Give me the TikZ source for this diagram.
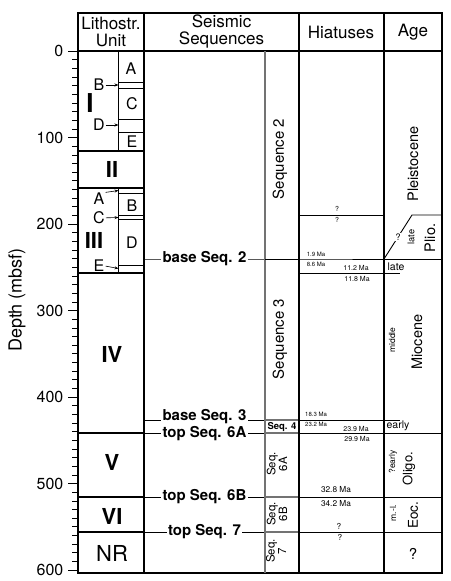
\documentclass[tikz,border=0pt]{standalone}
\usepackage{fontspec}
\setmainfont{TeX Gyre Heros}
\usetikzlibrary{arrows.meta,positioning}
\definecolor{seqgray}{RGB}{115,115,115}
\tikzset{
  frame/.style={line width=1.8pt},
  unitline/.style={line width=1.8pt},
  subline/.style={line width=0.4pt},
  hzline/.style={line width=0.9pt},
  seqline/.style={line width=1.1pt, seqgray},
  tickline/.style={line width=0.6pt},
  hdr/.style={align=center, inner sep=0pt, font=\fontsize{17}{17}\selectfont},
  unitlbl/.style={inner sep=0pt, font=\bfseries\fontsize{22}{22}\selectfont},
  sublbl/.style={inner sep=0.5pt, font=\fontsize{16}{16}\selectfont},
  seqlbl/.style={fill=white, inner xsep=1.5pt, inner ysep=0pt, font=\bfseries\fontsize{15}{15}\selectfont},
  seqname/.style={rotate=90, align=center, inner sep=0pt, font=\fontsize{15}{15}\selectfont},
  seqshort/.style={rotate=90, align=center, inner sep=0pt, font=\fontsize{11.5}{9}\selectfont},
  ma/.style={inner sep=0pt, font=\fontsize{6}{6}\selectfont},
  mamid/.style={inner sep=0pt, font=\fontsize{7}{7}\selectfont},
  mabig/.style={inner sep=0pt, font=\fontsize{8.3}{8.3}\selectfont},
  agebig/.style={rotate=90, inner sep=0pt, font=\fontsize{14.5}{14.5}\selectfont},
  agesmall/.style={rotate=90, inner sep=0pt, font=\fontsize{8.5}{8.5}\selectfont},
  agetext/.style={inner sep=0pt, font=\fontsize{10.5}{10.5}\selectfont},
  ptr/.style={-{Stealth[length=4pt, width=3pt]}, line width=0.6pt, shorten <=0.5pt},
}

\begin{document}
\begin{tikzpicture}[x=1pt, y=-1pt]
  \useasboundingbox (0,0) rectangle (450,581);

  % column heads
  \node[hdr] (hLith) at (111,32) {Lithostr.\\Unit};
  \node[hdr] (hSeis) at (221.5,32) {Seismic\\Sequences};
  \node[hdr] (hHiat) at (341,32) {Hiatuses};
  \node[hdr] (hAge) at (413,32) {Age};

  % depth axis
  \foreach \d in {0,10,...,600}
    \draw[tickline] (72,{51+0.865*\d}) -- (78,{51+0.865*\d});
  \foreach \d in {0,100,...,600} {
    \draw[tickline] (68,{51+0.865*\d}) -- (78,{51+0.865*\d});
    \node[anchor=east, inner sep=0pt, font=\fontsize{16}{16}\selectfont] (d\d) at (63.5,{51+0.865*\d}) {\d};
  }
  \node[rotate=90, inner sep=0pt, font=\fontsize{18}{18}\selectfont] (depth) at (17,300) {Depth (mbsf)};

  % lithostratigraphic units
  \draw[subline] (118,51) -- (118,151);
  \draw[subline] (118,188) -- (118,273);
  \foreach \y in {82,88,119,132,193,215.5,219.5,265}
    \draw[subline] (118,\y) -- (144,\y);
  \foreach \y in {151,188,273,433,497,532}
    \draw[unitline] (78,\y) -- (144,\y);

  \node[unitlbl, font=\bfseries\fontsize{26}{26}\selectfont] (uI) at (90,103) {I};
  \node[unitlbl] (uII) at (112,169) {II};
  \node[unitlbl] (uIII) at (94,240) {III};
  \node[unitlbl] (uIV) at (112,354) {IV};
  \node[unitlbl] (uV) at (112,462) {V};
  \node[unitlbl] (uVI) at (112,516) {VI};
  \node[unitlbl, font=\fontsize{22}{22}\selectfont] (uNR) at (112,553) {NR};

  \node[sublbl] (IA) at (131,69) {A};
  \node[sublbl] (IC) at (132,104) {C};
  \node[sublbl] (IE) at (132,142) {E};
  \node[sublbl] (IB) at (99,85) {B};
  \node[sublbl] (ID) at (99,125) {D};
  \coordinate (IBtip) at (118.5,85);
  \coordinate (IDtip) at (118.5,125);
  \draw[ptr] (IB) -- (IBtip);
  \draw[ptr] (ID) -- (IDtip);

  \node[sublbl] (IIIB) at (132,206) {B};
  \node[sublbl] (IIID) at (132,243) {D};
  \node[sublbl] (IIIA) at (99,199) {A};
  \node[sublbl] (IIIC) at (99,218) {C};
  \node[sublbl] (IIIE) at (99,266) {E};
  \coordinate (IIIAtip) at (118.5,190.5);
  \coordinate (IIICtip) at (118.5,217.5);
  \coordinate (IIIEtip) at (118.5,268.5);
  \draw[ptr] (IIIA.north east) -- (IIIAtip);
  \draw[ptr] (IIIC) -- (IIICtip);
  \draw[ptr] (IIIE.east) -- (IIIEtip);

  % seismic horizons
  \draw[hzline] (144,259) -- node[seqlbl] (bs2) {base Seq. 2} (265,259) -- (442,259);
  \draw[hzline] (144,420) -- node[seqlbl, yshift=3.5pt] (bs3) {base Seq. 3} (265,420);
  \draw[hzline] (144,433) -- node[seqlbl, yshift=-0.5pt] (ts6a) {top Seq. 6A} (265,433);
  \draw[hzline] (144,497) -- node[seqlbl] (ts6b) {top Seq. 6B} (265,497);
  \draw[hzline] (144,532) -- node[seqlbl] (ts7) {top Seq. 7\hspace{2pt}} (265,532);
  \foreach \y in {420,433,497,532}
    \draw[seqline] (265,\y) -- (299,\y);

  \node[seqname] (sq2) at (280,159) {Sequence 2};
  \node[seqname] (sq3) at (280,339) {Sequence 3};
  \node[inner sep=0pt, font=\bfseries\fontsize{9.5}{9.5}\selectfont] (sq4) at (282,427) {Seq. 4};
  \node[seqshort] (sq6a) at (277,464) {Seq.\\6A};
  \node[seqshort] (sq6b) at (277,514) {Seq.\\6B};
  \node[seqshort] (sq7) at (276,551) {Seq.\\7};

  % hiatuses
  \draw[hzline] (299,215) -- (384,215);
  \draw[hzline] (299,273) -- (400,273);
  \draw[hzline] (299,420) -- (400,420);
  \draw[hzline] (299,433) -- (442,433);
  \draw[hzline] (299,497) -- (442,497);
  \draw[hzline] (299,532) -- (442,532);

  \node[mamid] (h1a) at (337,209) {?};
  \node[mamid] (h1b) at (337,220) {?};
  \node[ma] (h2a) at (316,254) {1.9 Ma};
  \node[ma] (h2b) at (316,264.5) {8.6 Ma};
  \node[mamid] (h3a) at (356,268) {11.2 Ma};
  \node[mamid] (h3b) at (357,279) {11.8 Ma};
  \node[ma] (h4a) at (316,414.5) {18.3 Ma};
  \node[ma] (h4b) at (316,424.5) {23.2 Ma};
  \node[mamid] (h5a) at (356,429) {23.9 Ma};
  \node[mamid] (h5b) at (357,439) {29.9 Ma};
  \node[mabig] (h6a) at (336,490) {32.8 Ma};
  \node[mabig] (h6b) at (336,504) {34.2 Ma};
  \node[mabig] (h7a) at (339,526) {?};
  \node[mabig] (h7b) at (340,537.5) {?};

  % age
  \coordinate (plioA) at (384,259);
  \coordinate (plioB) at (412,215);
  \draw[hzline] (plioA) -- node[fill=white, inner sep=0.8pt, font=\fontsize{9}{9}\selectfont] (plioq) {?} (plioB) -- (442,215);
  \node[agebig] (pleist) at (413,164) {Pleistocene};
  \node[agesmall, font=\fontsize{9.3}{9.3}\selectfont] (pliolate) at (411,237) {late};
  \node[agebig] (plio) at (430,238) {Plio.};
  \node[agetext] (mlate) at (396,266.5) {late};
  \node[agesmall] (mmid) at (392,340) {middle};
  \node[agebig] (mio) at (417,342) {Miocene};
  \node[agetext] (mearly) at (398,425.5) {early};
  \node[agesmall] (oearly) at (393,462) {?early};
  \node[agebig, font=\fontsize{13}{13}\selectfont] (oligo) at (409,469) {Oligo.};
  \node[agesmall] (eml) at (393,513) {m.-l.};
  \node[agebig, font=\fontsize{13.5}{13.5}\selectfont] (eoc) at (413,515) {Eoc.};
  \node[inner sep=0pt, font=\fontsize{15}{15}\selectfont] (nrq) at (413,554) {?};

  % frame
  \draw[frame] (78,13) rectangle (442,573);
  \draw[frame] (78,51) -- (442,51);
  \foreach \x in {144,299,384}
    \draw[frame] (\x,13) -- (\x,573);
  \draw[seqline] (265,51) -- (265,573);
  \draw[hzline] (265,259) -- (299,259);
\end{tikzpicture}
\end{document}
